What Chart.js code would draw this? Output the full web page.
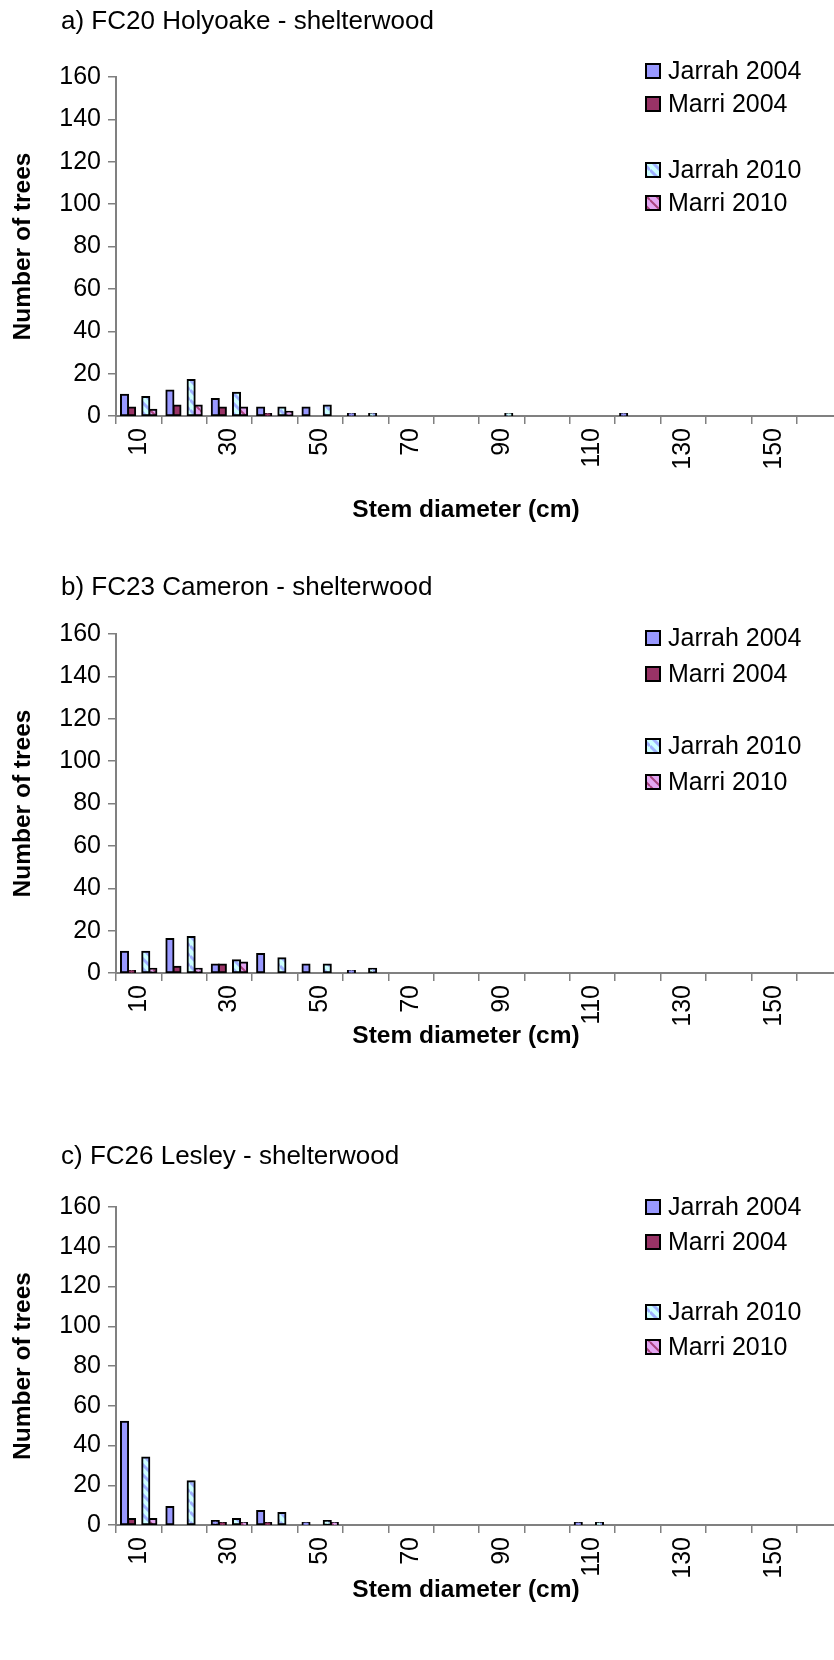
<!DOCTYPE html>
<html>
<head>
<meta charset="utf-8">
<title>Stem diameter distributions</title>
<script src="https://cdn.jsdelivr.net/npm/chart.js@4.4.1/dist/chart.umd.min.js"></script>
<style>
    html, body { margin: 0; padding: 0; background: #fff; }
    body { width: 834px; height: 1660px; position: relative; overflow: hidden; }
    .panel { position: absolute; left: 0; width: 834px; overflow: hidden; }
    .panel canvas { display: block; }
</style>
</head>
<body>
<div class="panel" id="wrapA"><canvas id="panelA"></canvas></div>
<div class="panel" id="wrapB"><canvas id="panelB"></canvas></div>
<div class="panel" id="wrapC"><canvas id="panelC"></canvas></div>

<script>
// Diameter classes (cm) and which of them get a label on the axis
const diameters = [10, 20, 30, 40, 50, 60, 70, 80, 90, 100, 110, 120, 130, 140, 150, 160];
const labelledDiameters = [10, 30, 50, 70, 90, 110, 130, 150];
const yTicks = [0, 20, 40, 60, 80, 100, 120, 140, 160];

// Legend names (the empty one is a spacer series between the two surveys)
const seriesNames = ['Jarrah 2004', 'Marri 2004', '', 'Jarrah 2010', 'Marri 2010'];

// a) FC20 Holyoake
const holyoakeJarrah2004 = [10, 12, 8, 4, 4, 1, 0, 0, 0, 0, 0, 1, 0, 0, 0, 0];
const holyoakeMarri2004  = [4, 5, 4, 1, 0, 0, 0, 0, 0, 0, 0, 0, 0, 0, 0, 0];
const holyoakeJarrah2010 = [9, 17, 11, 4, 5, 1, 0, 0, 1, 0, 0, 0, 0, 0, 0, 0];
const holyoakeMarri2010  = [3, 5, 4, 2, 0, 0, 0, 0, 0, 0, 0, 0, 0, 0, 0, 0];

// b) FC23 Cameron
const cameronJarrah2004 = [10, 16, 4, 9, 4, 1, 0, 0, 0, 0, 0, 0, 0, 0, 0, 0];
const cameronMarri2004  = [1, 3, 4, 0, 0, 0, 0, 0, 0, 0, 0, 0, 0, 0, 0, 0];
const cameronJarrah2010 = [10, 17, 6, 7, 4, 2, 0, 0, 0, 0, 0, 0, 0, 0, 0, 0];
const cameronMarri2010  = [2, 2, 5, 0, 0, 0, 0, 0, 0, 0, 0, 0, 0, 0, 0, 0];

// c) FC26 Lesley
const lesleyJarrah2004 = [52, 9, 2, 7, 1, 0, 0, 0, 0, 0, 1, 0, 0, 0, 0, 0];
const lesleyMarri2004  = [3, 0, 1, 1, 0, 0, 0, 0, 0, 0, 0, 0, 0, 0, 0, 0];
const lesleyJarrah2010 = [34, 22, 3, 6, 2, 0, 0, 0, 0, 0, 1, 0, 0, 0, 0, 0];
const lesleyMarri2010  = [3, 0, 1, 0, 1, 0, 0, 0, 0, 0, 0, 0, 0, 0, 0, 0];

const FONT = '"Liberation Sans", Arial, sans-serif';
const AXIS_GREY = '#808080';
const CANVAS_W = 842;   // plot runs a little past the right edge
const AXIS_LEFT = 116;

Chart.defaults.font.family = FONT;
Chart.defaults.color = '#000';

// Diagonal striped fills used for the 2010 series
function stripes(base, stripe, width) {
    const tile = document.createElement('canvas');
    tile.width = 10;
    tile.height = 10;
    const g = tile.getContext('2d');
    g.fillStyle = base;
    g.fillRect(0, 0, 10, 10);
    g.strokeStyle = stripe;
    g.lineWidth = width;
    g.beginPath();
    [-10, 0, 10].forEach(k => {
        g.moveTo(0, k);
        g.lineTo(10, k + 10);
    });
    g.stroke();
    return g.createPattern(tile, 'repeat');
}

const fills = [
    '#9999FF',
    '#993366',
    'rgba(0,0,0,0)',
    stripes('#CCFFFF', '#9FB0FF', 3),
    stripes('#E3A6F2', '#A8447F', 2)
];

function buildDatasets(series) {
    const data = [series[0], series[1], [], series[2], series[3]];
    return data.map((values, i) => ({
        label: seriesNames[i],
        data: values,
        backgroundColor: fills[i],
        borderColor: '#000',
        borderWidth: seriesNames[i] ? 2 : 0,
        borderSkipped: false,
        inflateAmount: 1,
        categoryPercentage: 0.78,
        barPercentage: 1.0
    }));
}

// Panel title, x-axis title and the legend floating over the plot
const panelDecor = {
    id: 'panelDecor',
    afterDraw(chart, args, opts) {
        const ctx = chart.ctx;
        ctx.save();
        ctx.fillStyle = '#000';
        ctx.textBaseline = 'middle';
        ctx.textAlign = 'left';
        ctx.font = '26px ' + FONT;
        ctx.fillText(opts.title, 61, opts.titleY);

        ctx.textAlign = 'center';
        ctx.font = 'bold 24.5px ' + FONT;
        ctx.fillText('Stem diameter (cm)', 466, opts.xTitleY);

        ctx.textAlign = 'left';
        ctx.font = '25px ' + FONT;
        chart.data.datasets.forEach((ds, i) => {
            if (!ds.label) return;
            const y = opts.legendTop + i * opts.legendStep;
            ctx.fillStyle = ds.backgroundColor;
            ctx.fillRect(646, y - 7, 14, 14);
            ctx.strokeStyle = '#000';
            ctx.lineWidth = 2;
            ctx.strokeRect(646, y - 7, 14, 14);
            ctx.fillStyle = '#000';
            ctx.fillText(ds.label, 668, y + 1);
        });
        ctx.restore();
    }
};

const panels = [
    { canvas: 'panelA', wrap: 'wrapA', title: 'a) FC20 Holyoake - shelterwood',
      top: 0, height: 566, titleY: 22, plotTop: 77, plotBottom: 416, xTitleY: 510,
      legendTop: 71, legendStep: 33,
      series: [holyoakeJarrah2004, holyoakeMarri2004, holyoakeJarrah2010, holyoakeMarri2010] },
    { canvas: 'panelB', wrap: 'wrapB', title: 'b) FC23 Cameron - shelterwood',
      top: 566, height: 566, titleY: 22, plotTop: 68, plotBottom: 407, xTitleY: 470,
      legendTop: 72, legendStep: 36,
      series: [cameronJarrah2004, cameronMarri2004, cameronJarrah2010, cameronMarri2010] },
    { canvas: 'panelC', wrap: 'wrapC', title: 'c) FC26 Lesley - shelterwood',
      top: 1132, height: 528, titleY: 25, plotTop: 75, plotBottom: 393, xTitleY: 458,
      legendTop: 75, legendStep: 35,
      series: [lesleyJarrah2004, lesleyMarri2004, lesleyJarrah2010, lesleyMarri2010] }
];

panels.forEach(p => {
    const wrap = document.getElementById(p.wrap);
    wrap.style.top = p.top + 'px';
    wrap.style.height = p.height + 'px';
    const canvas = document.getElementById(p.canvas);
    canvas.width = CANVAS_W;
    canvas.height = p.height;

    const xAxisHeight = p.height - p.plotBottom;

    new Chart(canvas, {
        type: 'bar',
        data: {
            labels: diameters.map(String),
            datasets: buildDatasets(p.series)
        },
        options: {
            responsive: false,
            animation: false,
            devicePixelRatio: 1,
            layout: { padding: { top: p.plotTop, right: 0, bottom: 0, left: 0 } },
            plugins: {
                legend: { display: false },
                tooltip: { enabled: false },
                panelDecor: {
                    title: p.title, titleY: p.titleY, xTitleY: p.xTitleY,
                    legendTop: p.legendTop, legendStep: p.legendStep
                }
            },
            scales: {
                x: {
                    grid: {
                        display: true,
                        drawOnChartArea: false,
                        drawTicks: true,
                        tickLength: 8,
                        color: AXIS_GREY,
                        lineWidth: 1.5
                    },
                    border: { display: true, color: AXIS_GREY, width: 2 },
                    ticks: {
                        autoSkip: false,
                        minRotation: 90,
                        maxRotation: 90,
                        padding: 4,
                        font: { size: 25 },
                        callback(value, index) {
                            return labelledDiameters.includes(diameters[index]) ? String(diameters[index]) : '';
                        }
                    },
                    afterFit(scale) {
                        scale.height = xAxisHeight;
                        scale.paddingLeft = 0;
                        scale.paddingRight = 0;
                    }
                },
                y: {
                    min: 0,
                    max: 160,
                    afterBuildTicks(scale) {
                        scale.ticks = yTicks.map(v => ({ value: v }));
                    },
                    grid: {
                        display: true,
                        drawOnChartArea: false,
                        drawTicks: true,
                        tickLength: 8,
                        color: AXIS_GREY,
                        lineWidth: 1.5
                    },
                    border: { display: true, color: AXIS_GREY, width: 2 },
                    ticks: {
                        padding: 7,
                        font: { size: 25 }
                    },
                    title: {
                        display: true,
                        text: 'Number of trees',
                        font: { size: 24.5, weight: 'bold' },
                        padding: { top: 9, bottom: 0 }
                    },
                    afterFit(scale) {
                        scale.width = AXIS_LEFT;
                        scale.paddingTop = 0;
                        scale.paddingBottom = 0;
                    }
                }
            }
        },
        plugins: [panelDecor]
    });
});
</script>
</body>
</html>
